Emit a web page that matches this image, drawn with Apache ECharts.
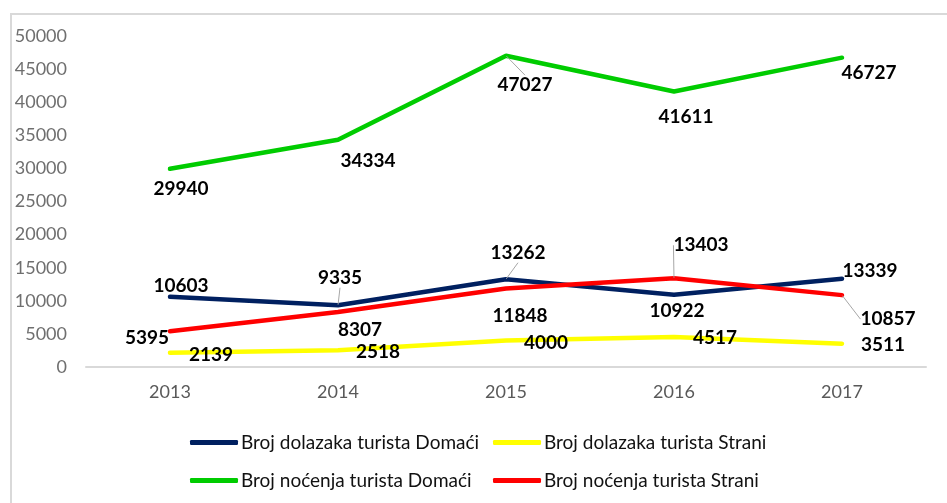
<!DOCTYPE html>
<html>
<head>
<meta charset="utf-8">
<script src="https://cdn.jsdelivr.net/npm/echarts@6/dist/echarts.min.js"></script>
<style>
  html, body { margin: 0; padding: 0; background: #fff; }
  #chart { width: 947px; height: 503px; }
</style>
</head>
<body>
<div id="chart"></div>
<script>
var years = ['2013', '2014', '2015', '2016', '2017'];
var dolasciDomaci = [10603, 9335, 13262, 10922, 13339];
var dolasciStrani = [2139, 2518, 4000, 4517, 3511];
var nocenjaDomaci = [29940, 34334, 47027, 41611, 46727];
var nocenjaStrani = [5395, 8307, 11848, 13403, 10857];

var names = [
  'Broj dolazaka turista Domaći',
  'Broj dolazaka turista Strani',
  'Broj noćenja turista Domaći',
  'Broj noćenja turista Strani'
];
var colors = ['#002060', '#ffff00', '#00cc00', '#ff0000'];

// label offsets (px) from each point, per series
var labelShift = [
  [[11, -11], [2, -27], [12, -26], [3, 16], [28, -8]],
  [[41, 2], [40, 2], [40, 2], [41, 1], [41, 1]],
  [[11, 20], [30, 21], [19, 29], [12, 25], [27, 15]],
  [[-23, 7], [22, 18], [14, 27], [27, -33], [46, 24]]
];
// points whose label gets a leader line
var leaders = [[1, 2], [], [2], [3, 4]];

var font = 'Lato';

function makeSeries(i, values) {
  return {
    name: names[i],
    type: 'line',
    data: values.map(function (v, j) {
      return {
        value: v,
        labelLine: { show: leaders[i].indexOf(j) >= 0 }
      };
    }),
    symbol: 'circle',
    symbolSize: 1,
    showSymbol: true,
    color: colors[i],
    lineStyle: { width: 4.5, color: colors[i], cap: 'round' },
    itemStyle: { color: colors[i] },
    label: {
      show: true,
      position: 'inside',
      color: '#000',
      fontFamily: font,
      fontWeight: 'bold',
      fontSize: 19
    },
    labelLine: {
      show: false,
      lineStyle: { color: '#a6a6a6', width: 1 }
    },
    labelLayout: function (p) {
      var s = labelShift[i][p.dataIndex];
      return { dx: s[0], dy: s[1] };
    },
    emphasis: { disabled: true }
  };
}

// one legend per entry so the two columns line up like the original
var legendSpots = [[185, 428], [488, 428], [185, 466], [488, 466]];
var legends = names.map(function (n, i) {
  return {
    data: [n],
    left: legendSpots[i][0],
    top: legendSpots[i][1],
    icon: 'roundRect', itemWidth: 48, itemHeight: 5, itemGap: 5,
    textStyle: { fontFamily: font, fontSize: 19, color: '#111', padding: [0, 0, 0, -2] }
  };
});

var option = {
  animation: false,
  graphic: [{
    type: 'rect',
    shape: { x: 11, y: 14, width: 1000, height: 600 },
    style: { fill: 'none', stroke: '#d9d9d9', lineWidth: 2 },
    silent: true
  }],
  grid: { left: 86, right: 21, top: 36, bottom: 136 },
  legend: legends,
  xAxis: {
    type: 'category',
    data: years,
    axisTick: { show: false },
    axisLine: { lineStyle: { color: '#d9d9d9', width: 2 } },
    axisLabel: { fontFamily: font, fontSize: 18, color: '#595959', margin: 16 }
  },
  yAxis: {
    type: 'value',
    min: 0,
    max: 50000,
    interval: 5000,
    splitLine: { show: false },
    axisLine: { show: false },
    axisTick: { show: false },
    axisLabel: {
      fontFamily: font, fontSize: 18, color: '#6f6f6f', margin: 19,
      formatter: function (v) { return String(v); }
    }
  },
  series: [
    makeSeries(0, dolasciDomaci),
    makeSeries(1, dolasciStrani),
    makeSeries(2, nocenjaDomaci),
    makeSeries(3, nocenjaStrani)
  ]
};

echarts.init(document.getElementById('chart')).setOption(option);
</script>
</body>
</html>
